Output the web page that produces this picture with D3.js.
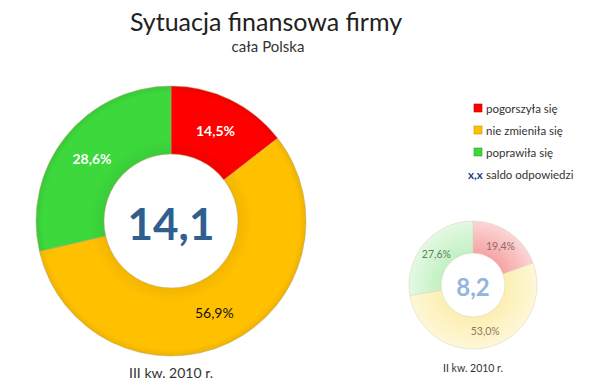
<!DOCTYPE html>
<html><head><meta charset="utf-8">
<script src="https://cdn.jsdelivr.net/npm/d3@7"></script>
<style>body{margin:0;background:#fff;} svg{display:block;}</style>
</head><body>
<script>
const categories = ["pogorszyła się", "nie zmieniła się", "poprawiła się"];
const currentValues = [14.5, 56.9, 28.6];
const previousValues = [19.4, 53.0, 27.6];
const currentSaldo = "14,1";
const previousSaldo = "8,2";
const periodLabels = ["III kw. 2010 r.", "II kw. 2010 r."];
const legendSaldo = ["x,x", "saldo odpowiedzi"];

const W = 600, H = 392;
const font = "Lato, 'Open Sans', sans-serif";
const svg = d3.select("body").append("svg").attr("width", W).attr("height", H);
const defs = svg.append("defs");

const bright = ["#FF0000", "#FFC000", "#3CD83C"];
const pale = ["#F6A3A3", "#FCEFB2", "#C2F1C2"];
const paleEdge = ["#FBD6D6", "#FEF7D8", "#E3F9E3"];
const paleText = ["#8E6A6A", "#8A7C5A", "#5F7F5F"];

pale.forEach((c, i) => {
  const g = defs.append("radialGradient").attr("id", "pg" + i)
    .attr("gradientUnits", "userSpaceOnUse").attr("cx", 0).attr("cy", 0).attr("r", 64);
  g.append("stop").attr("offset", "50%").attr("stop-color", c);
  g.append("stop").attr("offset", "100%").attr("stop-color", paleEdge[i]);
});
bright.forEach((c, i) => {
  const g = defs.append("radialGradient").attr("id", "bg" + i)
    .attr("gradientUnits", "userSpaceOnUse").attr("cx", 0).attr("cy", 0).attr("r", 135);
  g.append("stop").attr("offset", "50%").attr("stop-color", d3.color(c).darker(0.15));
  g.append("stop").attr("offset", "60%").attr("stop-color", c);
  g.append("stop").attr("offset", "95%").attr("stop-color", c);
  g.append("stop").attr("offset", "100%").attr("stop-color", d3.color(c).darker(0.2));
});

const color = d3.scaleOrdinal().domain(categories).range(bright);
const pie = d3.pie().sort(null).value(d => d.v);

function donut(values, cx, cy, rOut, rIn, opts) {
  const data = pie(values.map((v, i) => ({ c: categories[i], v, i })));
  const g = svg.append("g").attr("transform", `translate(${cx},${cy})`);
  const arc = d3.arc().innerRadius(rIn).outerRadius(rOut);
  const lab = d3.arc().innerRadius((rIn + rOut) / 2).outerRadius((rIn + rOut) / 2);
  g.selectAll("path").data(data).join("path")
    .attr("d", arc)
    .attr("fill", d => opts.pale ? `url(#pg${d.data.i})` : `url(#bg${d.data.i})`)
    .attr("stroke", opts.pale ? "#D8D0B8" : "#B8A070")
    .attr("stroke-width", 0.5);
  g.selectAll("text.pct").data(data).join("text")
    .attr("class", "pct")
    .attr("transform", d => `translate(${lab.centroid(d)})`)
    .attr("text-anchor", "middle").attr("dominant-baseline", "central")
    .attr("font-family", font)
    .attr("font-size", opts.pctSize)
    .attr("font-weight", d => opts.pale ? "normal" : (d.data.i === 1 ? "normal" : "bold"))
    .attr("fill", d => opts.pale ? paleText[d.data.i] : (d.data.i === 1 ? "#111" : "#fff"))
    .text(d => d.data.v.toFixed(1).replace(".", ",") + "%");
  g.append("text").attr("text-anchor", "middle").attr("dominant-baseline", "central")
    .attr("y", opts.saldoDy)
    .attr("font-family", font).attr("font-weight", "bold")
    .attr("font-size", opts.saldoSize).attr("fill", opts.saldoColor)
    .text(opts.saldo);
  g.append("text").attr("text-anchor", "middle")
    .attr("y", opts.labelY)
    .attr("font-family", font).attr("font-size", opts.labelSize).attr("fill", "#333")
    .text(opts.label);
}

svg.append("text").attr("x", 266).attr("y", 31).attr("text-anchor", "middle")
  .attr("font-family", font).attr("font-size", 25).attr("fill", "#222")
  .text("Sytuacja finansowa firmy");
svg.append("text").attr("x", 268).attr("y", 52).attr("text-anchor", "middle")
  .attr("font-family", font).attr("font-size", 15).attr("fill", "#333")
  .text("cała Polska");

donut(currentValues, 171, 221, 135, 67, {
  pale: false, pctSize: 14, saldo: currentSaldo, saldoSize: 44, saldoColor: "#2F5F8F", saldoDy: 2,
  label: periodLabels[0], labelY: 157, labelSize: 14
});
donut(previousValues, 473, 285, 64, 32, {
  pale: true, pctSize: 10.5, saldo: previousSaldo, saldoSize: 24, saldoColor: "#93B5DA", saldoDy: 1,
  label: periodLabels[1], labelY: 87, labelSize: 10.5
});

const leg = svg.append("g");
categories.forEach((c, i) => {
  const y = 108 + i * 22;
  leg.append("rect").attr("x", 474).attr("y", y - 4).attr("width", 8).attr("height", 8)
    .attr("fill", color(c)).attr("stroke", d3.color(color(c)).darker(0.8)).attr("stroke-width", 0.6);
  leg.append("text").attr("x", 486).attr("y", y).attr("dominant-baseline", "central")
    .attr("font-family", font).attr("font-size", 11.5).attr("fill", "#333").text(c);
});
leg.append("text").attr("x", 468).attr("y", 174).attr("dominant-baseline", "central")
  .attr("font-family", font).attr("font-size", 11.5).attr("font-weight", "bold").attr("fill", "#1F3F7F")
  .text(legendSaldo[0]);
leg.append("text").attr("x", 486).attr("y", 174).attr("dominant-baseline", "central")
  .attr("font-family", font).attr("font-size", 11.5).attr("fill", "#333")
  .text(legendSaldo[1]);
</script>
</body></html>
